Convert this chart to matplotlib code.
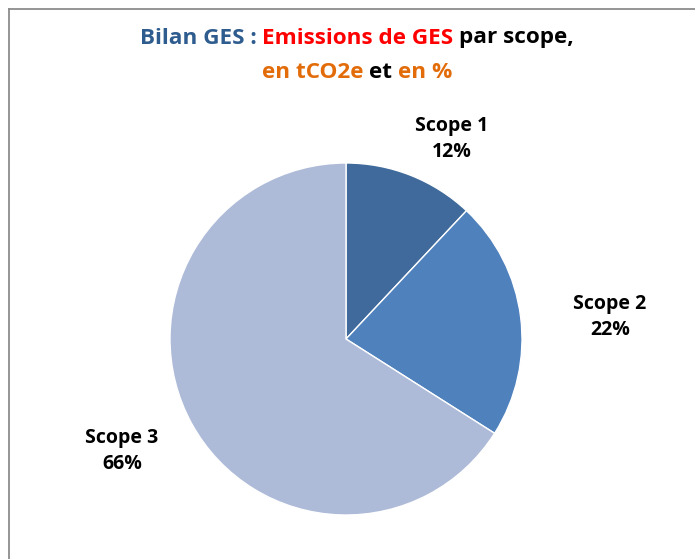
import matplotlib
matplotlib.use("Agg")
import matplotlib.pyplot as plt
from matplotlib.lines import Line2D
from matplotlib.offsetbox import TextArea, HPacker, AnchoredOffsetbox

categories = ["Scope 1", "Scope 2", "Scope 3"]
values = [12, 22, 66]
colors = ["#3F6A9B", "#4F81BD", "#AEBBD8"]

W, H = 695, 559
fig = plt.figure(figsize=(W / 100, H / 100), dpi=100)
FONT = "Open Sans"

ax = fig.add_axes([0, 0, 1, 1])
cx, cy, r = 346, H - 339, 176
ax.pie(values, colors=colors, startangle=90, counterclock=False,
       center=(cx, cy), radius=r, frame=False,
       wedgeprops=dict(edgecolor="white", linewidth=1.0))
ax.set_xlim(0, W)
ax.set_ylim(0, H)
ax.set_aspect("equal")
ax.axis("off")

# labels
label_pos = [(452, 139), (610, 317), (122, 451)]
for cat, v, (lx, ly) in zip(categories, values, label_pos):
    ax.text(lx, H - ly, f"{cat}\n{v}%", ha="center", va="center",
            fontsize=14, fontweight="bold", family=FONT, linespacing=1.45,
            color="black")

# multicolour title
def title_line(parts, y):
    areas = [TextArea(t, textprops=dict(color=c, fontsize=16.2, fontweight="bold",
                                        family=FONT)) for t, c in parts]
    box = HPacker(children=areas, align="baseline", pad=0, sep=0)
    ab = AnchoredOffsetbox(loc="center", child=box, pad=0, frameon=False,
                           bbox_to_anchor=(357 / W, 1 - y / H),
                           bbox_transform=fig.transFigure, borderpad=0)
    fig.add_artist(ab)

title_line([("Bilan GES : ", "#2E5C8E"), ("Emissions de GES ", "#FF0000"),
            ("par scope,", "black")], 38)
title_line([("en tCO2e ", "#E36C0A"), ("et ", "black"), ("en %", "#E36C0A")], 72)

# border (left and top visible)
bx, by = 8.5 / W, 1 - 8.5 / H
fig.add_artist(Line2D([bx, bx], [0, by], transform=fig.transFigure,
                      color="#8C8C8C", linewidth=1.3))
fig.add_artist(Line2D([bx, 1], [by, by], transform=fig.transFigure,
                      color="#8C8C8C", linewidth=1.3))

fig.savefig("out.png", dpi=100)
